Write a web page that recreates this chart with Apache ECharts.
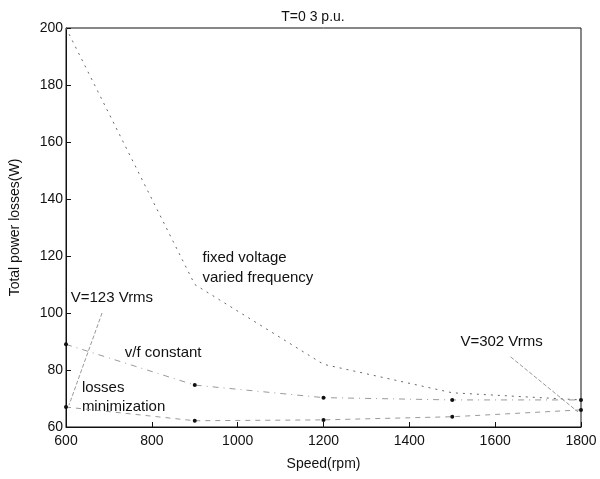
<!DOCTYPE html>
<html><head><meta charset="utf-8">
<script src="https://cdn.jsdelivr.net/npm/echarts@6/dist/echarts.min.js"></script>
<style>html,body{margin:0;padding:0;background:#fff}#c{width:600px;height:479px}</style>
</head><body><div id="c"></div>
<script>
const speeds = [600, 900, 1200, 1500, 1800];
const fixedVoltage = [200, 110, 82, 72, 69.5];
const vfConstant = [89, 74.7, 70.3, 69.5, 69.5];
const lossesMin = [67, 62.2, 62.5, 63.6, 66];
const titleText = 'T=0 3 p.u.';
const xName = 'Speed(rpm)';
const yName = 'Total power losses(W)';
const notes = [
  {t: 'fixed voltage', x: 918, y: 119.2},
  {t: 'varied frequency', x: 918, y: 112.5},
  {t: 'V=123 Vrms', x: 611, y: 105.2},
  {t: 'v/f constant', x: 737, y: 85.9},
  {t: 'losses', x: 637, y: 73.6},
  {t: 'minimization', x: 637, y: 67},
  {t: 'V=302 Vrms', x: 1519, y: 89.8}
];
const arrows = [
  [[684, 100], [607, 67.7]],
  [[1636, 84.6], [1793, 65.3]]
];

const pair = (xs, ys) => xs.map((x, i) => [x, ys[i]]);
const font = 'Liberation Sans, Arial, sans-serif';
const chart = echarts.init(document.getElementById('c'));
const mkSeries = (data, type, sym, col) => ({
  type: 'line', data, symbol: sym, symbolSize: 4,
  itemStyle: {color: '#111'},
  lineStyle: {color: col, width: 1, type: type},
  silent: true, z: 3
});
chart.setOption({
  animation: false,
  title: {text: titleText, left: 308, top: 5, textAlign: 'center',
    textStyle: {fontFamily: font, fontSize: 14, fontWeight: 'normal', color: '#111'}},
  grid: {left: 64, right: 19, top: 28, bottom: 52, show: true, borderColor: '#111', borderWidth: 1},
  xAxis: {type: 'value', min: 600, max: 1800, interval: 200, name: xName,
    nameLocation: 'middle', nameGap: 30,
    nameTextStyle: {fontFamily: font, fontSize: 14, color: '#111'},
    axisLine: {lineStyle: {color: '#111'}}, axisTick: {inside: true, lineStyle: {color: '#111'}},
    axisLabel: {fontFamily: font, fontSize: 14, color: '#111', margin: 7,
      formatter: v => String(v)},
    splitLine: {show: false}},
  yAxis: {type: 'value', min: 60, max: 200, interval: 20, name: yName,
    nameLocation: 'middle', nameGap: 44,
    nameTextStyle: {fontFamily: font, fontSize: 14, color: '#111'},
    axisLine: {lineStyle: {color: '#111'}}, axisTick: {inside: true, lineStyle: {color: '#111'}},
    axisLabel: {fontFamily: font, fontSize: 14, color: '#111', margin: 3,
      formatter: v => String(v)},
    splitLine: {show: false}},
  series: [
    mkSeries(pair(speeds, fixedVoltage), [2, 5], 'none', '#666'),
    mkSeries(pair(speeds, vfConstant), [6, 5, 1, 5], 'circle', '#999'),
    mkSeries(pair(speeds, lossesMin), [5, 5], 'circle', '#999'),
    {type: 'lines', coordinateSystem: 'cartesian2d', silent: true,
      data: arrows.map(a => ({coords: a})),
      lineStyle: {color: '#333', width: 1, type: [4, 2]},
      effect: {show: false}}
  ]
});
const g = notes.map(n => {
  const p = chart.convertToPixel({gridIndex: 0}, [n.x, n.y]);
  return {type: 'text', x: p[0], y: p[1], silent: true,
    style: {text: n.t, fill: '#111', font: '15px ' + font, textVerticalAlign: 'middle'}};
});
chart.setOption({graphic: g});
</script></body></html>
